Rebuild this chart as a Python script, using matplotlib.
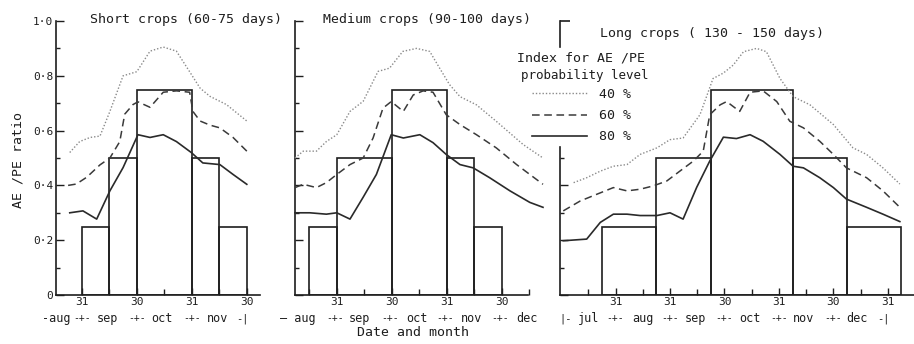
import matplotlib
matplotlib.use("Agg")
import matplotlib.pyplot as plt
import numpy as np
from matplotlib.ticker import FixedLocator, NullFormatter, FixedFormatter
import matplotlib.transforms as mtransforms

# x unit: months, 0 = 31 August (end of August), 1 = 30 Sept, 2 = 31 Oct ...
# ---------------- Panel 1 : short crops ----------------
p1_bar_edges = [0.0, 0.5, 1.0, 2.0, 2.5, 3.0]
p1_bar_heights = [0.25, 0.5, 0.75, 0.5, 0.25]
p1_x40 = [-0.22, -0.04, 0.15, 0.33, 0.51, 0.75, 1.0, 1.24, 1.48, 1.72, 1.96, 2.15, 2.33, 2.63, 3.0]
p1_y40 = [0.52, 0.56, 0.575, 0.58, 0.67, 0.80, 0.815, 0.89, 0.905, 0.89, 0.815, 0.755, 0.725, 0.695, 0.635]
p1_x60 = [-0.25, -0.1, 0.09, 0.33, 0.51, 0.69, 0.78, 0.93, 1.02, 1.24, 1.48, 1.72, 1.96, 2.02, 2.15, 2.33, 2.51, 2.75, 3.0]
p1_y60 = [0.40, 0.405, 0.43, 0.475, 0.50, 0.56, 0.66, 0.695, 0.705, 0.685, 0.74, 0.745, 0.74, 0.67, 0.635, 0.62, 0.61, 0.575, 0.525]
p1_x80 = [-0.22, 0.02, 0.27, 0.51, 0.75, 1.02, 1.24, 1.48, 1.72, 1.99, 2.2, 2.51, 2.75, 3.0]
p1_y80 = [0.30, 0.307, 0.277, 0.38, 0.465, 0.585, 0.575, 0.585, 0.56, 0.52, 0.482, 0.476, 0.44, 0.404]
p1_tick_labels = ["31", "30", "31", "30"]
p1_months = ["-aug", "sep", "oct", "nov"]

# ---------------- Panel 2 : medium crops ----------------
p2_bar_edges = [-0.5, 0.0, 1.0, 2.0, 2.5, 3.0]
p2_bar_heights = [0.25, 0.5, 0.75, 0.5, 0.25]
p2_x40 = [-0.76, -0.61, -0.37, -0.19, 0.0, 0.24, 0.48, 0.75, 0.96, 1.2, 1.45, 1.69, 1.87, 2.05, 2.24, 2.54, 2.9, 3.39, 3.75]
p2_y40 = [0.50, 0.525, 0.525, 0.56, 0.585, 0.67, 0.707, 0.816, 0.828, 0.889, 0.90, 0.889, 0.828, 0.768, 0.724, 0.694, 0.634, 0.549, 0.50]
p2_x60 = [-0.76, -0.61, -0.37, -0.19, 0.0, 0.24, 0.48, 0.66, 0.84, 0.99, 1.21, 1.39, 1.57, 1.75, 1.99, 2.24, 2.54, 2.9, 3.27, 3.75]
p2_y60 = [0.392, 0.404, 0.392, 0.41, 0.44, 0.476, 0.50, 0.573, 0.682, 0.706, 0.67, 0.73, 0.745, 0.74, 0.658, 0.622, 0.585, 0.537, 0.476, 0.404]
p2_x80 = [-0.76, -0.49, -0.19, 0.0, 0.24, 0.48, 0.72, 0.99, 1.21, 1.51, 1.75, 1.99, 2.24, 2.48, 2.78, 3.15, 3.51, 3.75]
p2_y80 = [0.30, 0.30, 0.295, 0.30, 0.277, 0.357, 0.44, 0.585, 0.573, 0.585, 0.556, 0.513, 0.476, 0.464, 0.428, 0.38, 0.338, 0.32]
p2_tick_labels = ["31", "30", "31", "30"]
p2_months = ["\u2014 aug", "sep", "oct", "nov", "dec"]

# ---------------- Panel 3 : long crops ----------------
p3_bar_edges = [-1.25, -0.25, 0.75, 2.25, 3.25, 4.25]
p3_bar_heights = [0.25, 0.5, 0.75, 0.5, 0.25]
p3_x40 = [-1.77, -1.53, -1.28, -1.04, -0.79, -0.55, -0.24, 0.0, 0.24, 0.55, 0.79, 0.98, 1.16, 1.35, 1.59, 1.77, 2.02, 2.26, 2.57, 3.0, 3.36, 3.61, 3.91, 4.22]
p3_y40 = [0.41, 0.428, 0.452, 0.47, 0.476, 0.513, 0.537, 0.567, 0.573, 0.658, 0.79, 0.81, 0.839, 0.888, 0.90, 0.888, 0.79, 0.724, 0.694, 0.622, 0.537, 0.513, 0.464, 0.405]
p3_x60 = [-1.96, -1.65, -1.34, -1.04, -0.79, -0.55, -0.31, -0.06, 0.18, 0.43, 0.61, 0.73, 0.92, 1.04, 1.28, 1.47, 1.71, 1.96, 2.2, 2.45, 2.75, 3.0, 3.24, 3.61, 3.91, 4.22]
p3_y60 = [0.307, 0.343, 0.368, 0.392, 0.38, 0.386, 0.398, 0.416, 0.452, 0.489, 0.525, 0.658, 0.694, 0.706, 0.67, 0.74, 0.745, 0.706, 0.634, 0.61, 0.561, 0.513, 0.464, 0.428, 0.38, 0.32]
p3_x80 = [-1.96, -1.53, -1.28, -1.04, -0.79, -0.55, -0.24, 0.0, 0.24, 0.49, 0.73, 0.98, 1.22, 1.47, 1.71, 2.02, 2.26, 2.45, 2.75, 3.0, 3.24, 3.61, 3.91, 4.22]
p3_y80 = [0.198, 0.204, 0.265, 0.295, 0.295, 0.29, 0.29, 0.30, 0.277, 0.393, 0.489, 0.576, 0.571, 0.585, 0.561, 0.513, 0.47, 0.464, 0.428, 0.392, 0.35, 0.32, 0.295, 0.268]
p3_tick_labels = ["31", "31", "30", "31", "30", "31"]
p3_months = ["jul", "aug", "sep", "oct", "nov", "dec"]

titles = ["Short crops (60-75 days)", "Medium crops (90-100 days)", "Long crops ( 130 - 150 days)"]
legend_title = ["Index for AE /PE", "probability level"]
legend_labels = ["40 %", "60 %", "80 %"]
y_tick_values = [0, 0.2, 0.4, 0.6, 0.8, 1.0]
y_tick_labels = ["0", "0\u00b72", "0\u00b74", "0\u00b76", "0\u00b78", "1\u00b70"]

plt.rcParams["font.family"] = ["DejaVu Sans Mono", "DejaVu Sans"]
FS = 9.5      # general lettering
FT = 8.0      # tick labels
FM = 8.5      # month names
INK = "#1e1e1e"
W, H = 914, 344

fig = plt.figure(figsize=(W / 100, H / 100), dpi=100)
fig.patch.set_facecolor("white")

Y0, Y1 = 295, 21  # pixel rows of 0 and 1.0


def add_ax(x0, x1):
    return fig.add_axes([x0 / W, (H - Y0) / H, (x1 - x0) / W, (Y0 - Y1) / H])


def fx(px):
    return px / W


def fy(py):
    return (H - py) / H


def style_axis(ax, xlim, major, labels, minor, xspine=None, ytop=1.0):
    ax.set_xlim(*xlim)
    ax.set_ylim(0, 1.0)
    for s in ("top", "right"):
        ax.spines[s].set_visible(False)
    for s in ("left", "bottom"):
        ax.spines[s].set_linewidth(1.2)
        ax.spines[s].set_color(INK)
    ax.spines["left"].set_bounds(0, ytop)
    if xspine is not None:
        ax.spines["bottom"].set_bounds(*xspine)
    ax.xaxis.set_major_locator(FixedLocator(major))
    ax.xaxis.set_major_formatter(FixedFormatter(labels))
    ax.xaxis.set_minor_locator(FixedLocator(minor))
    yt = [v for v in y_tick_values if v <= ytop + 1e-9]
    ax.yaxis.set_major_locator(FixedLocator(yt))
    ax.yaxis.set_minor_locator(FixedLocator([v + 0.1 for v in yt if v + 0.1 <= ytop + 1e-9]))
    ax.tick_params(axis="x", which="major", direction="in", length=5, width=1.0, pad=1.5,
                   labelsize=FT, colors=INK)
    ax.tick_params(axis="x", which="minor", direction="in", length=4, width=1.0, colors=INK)
    ax.tick_params(axis="y", which="major", direction="in", length=6, width=1.0, pad=2,
                   labelsize=FT, colors=INK)
    ax.tick_params(axis="y", which="minor", direction="in", length=3, width=1.0, colors=INK)
    ax.patch.set_alpha(0)


def draw(ax, edges, heights, x40, y40, x60, y60, x80, y80):
    edges = np.asarray(edges)
    ax.bar(edges[:-1], heights, width=np.diff(edges), align="edge", facecolor="none",
           edgecolor=INK, linewidth=1.2, zorder=2)
    l40, = ax.plot(x40, y40, color="#8a8a8a", lw=1.0, ls=(0, (1, 1.4)), zorder=3, clip_on=False)
    l60, = ax.plot(x60, y60, color="#3a3a3a", lw=1.1, ls=(0, (5, 3)), zorder=3, clip_on=False)
    l80, = ax.plot(x80, y80, color="#2a2a2a", lw=1.2, zorder=3, clip_on=False)
    return l40, l60, l80


def month_row(ax, names, centers, seps, start=None, end=None):
    tr = mtransforms.blended_transform_factory(ax.transData, ax.transAxes)
    yy = -0.085
    for n, c in zip(names, centers):
        ax.text(c, yy, n, transform=tr, ha="center", va="center", fontsize=FM, color=INK)
    for s in seps:
        ax.text(s, yy, "-+-", transform=tr, ha="center", va="center", fontsize=7, color=INK)
    if end is not None:
        ax.text(end, yy, "-|", transform=tr, ha="right", va="center", fontsize=7.5, color=INK)
    if start is not None:
        ax.text(start, yy, "|-", transform=tr, ha="left", va="center", fontsize=7.5, color=INK)


# Panel 1
ax1 = add_ax(56, 260)
style_axis(ax1, (-0.47, 3.24), [0, 1, 2, 3], p1_tick_labels, [0.5, 1.5, 2.5])
ax1.yaxis.set_major_formatter(FixedFormatter(y_tick_labels))
draw(ax1, p1_bar_edges, p1_bar_heights, p1_x40, p1_y40, p1_x60, p1_y60, p1_x80, p1_y80)
month_row(ax1, p1_months, [-0.47, 0.47, 1.45, 2.47], [0, 1, 2], end=3.04)

# Panel 2
ax2 = add_ax(295, 543)
style_axis(ax2, (-0.76, 3.75), [0, 1, 2, 3], p2_tick_labels, [-0.5, 0.5, 1.5, 2.5, 3.5],
           xspine=(-0.76, 3.47))
ax2.yaxis.set_major_formatter(NullFormatter())
draw(ax2, p2_bar_edges, p2_bar_heights, p2_x40, p2_y40, p2_x60, p2_y60, p2_x80, p2_y80)
month_row(ax2, p2_months, [-0.7, 0.42, 1.45, 2.45, 3.45], [-0.03, 0.97, 1.97, 2.97])

# Panel 3
ax3 = add_ax(560, 914)
style_axis(ax3, (-2.02, 4.48), [-1, 0, 1, 2, 3, 4], p3_tick_labels,
           [-1.5, -0.5, 0.5, 1.5, 2.5, 3.5], ytop=0.54)
ax3.yaxis.set_major_locator(FixedLocator([0, 0.2, 0.4]))
ax3.yaxis.set_minor_locator(FixedLocator([0.1, 0.3, 0.5]))
ax3.yaxis.set_major_formatter(NullFormatter())
h40, h60, h80 = draw(ax3, p3_bar_edges, p3_bar_heights, p3_x40, p3_y40, p3_x60, p3_y60, p3_x80, p3_y80)
month_row(ax3, p3_months, [-1.5, -0.5, 0.47, 1.47, 2.45, 3.43], [-1, 0, 1, 2, 3],
          start=-2.03, end=4.03)

# upper stub of the panel-3 y axis (interrupted by the legend)
stub_lo = 0.905
ax3b = fig.add_axes([560 / W, (H - (Y0 - (Y0 - Y1) * stub_lo)) / H, 0.01,
                     ((Y0 - Y1) * (1 - stub_lo)) / H])
ax3b.set_ylim(stub_lo, 1.0)
ax3b.set_xlim(0, 1)
for s in ("top", "right", "bottom"):
    ax3b.spines[s].set_visible(False)
ax3b.spines["left"].set_linewidth(1.2)
ax3b.spines["left"].set_color(INK)
ax3b.set_xticks([])
ax3b.yaxis.set_major_locator(FixedLocator([1.0]))
ax3b.yaxis.set_major_formatter(NullFormatter())
ax3b.tick_params(axis="y", direction="in", length=7, width=1.2, colors=INK)
ax3b.patch.set_alpha(0)

# titles
fig.text(fx(90), fy(19), titles[0], ha="left", va="center", fontsize=FS, color=INK)
fig.text(fx(323), fy(19), titles[1], ha="left", va="center", fontsize=FS, color=INK)
fig.text(fx(600), fy(33), titles[2], ha="left", va="center", fontsize=FS, color=INK)

# axis labels
fig.text(fx(18), fy(160), "AE /PE ratio", rotation=90, ha="center", va="center", fontsize=FS, color=INK)
fig.text(fx(413), fy(333), "Date and month", ha="center", va="center", fontsize=FS, color=INK)

# legend
fig.text(fx(517), fy(58), legend_title[0], ha="left", va="center", fontsize=FS, color=INK)
fig.text(fx(521), fy(75), legend_title[1], ha="left", va="center", fontsize=FS - 0.5, color=INK)
ax3.legend([h40, h60, h80], legend_labels, loc="upper left",
           bbox_to_anchor=(fx(532), fy(88)), bbox_transform=fig.transFigure,
           frameon=False, fontsize=FS, handlelength=4.2, handletextpad=0.9,
           labelspacing=0.62, borderpad=0, borderaxespad=0, labelcolor=INK)

fig.savefig("out.png", dpi=100, facecolor="white")
